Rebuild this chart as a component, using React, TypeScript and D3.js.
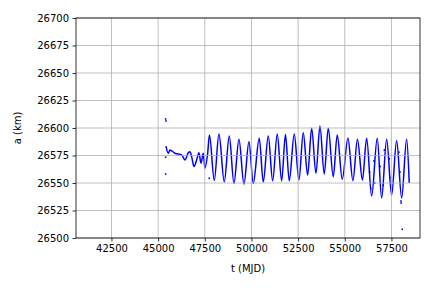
import * as d3 from "d3";
import { useEffect, useRef } from "react";

// orbit track (MJD, km), extrema of the oscillation
const tOrbit = [
  45420, 45543, 45634, 45902, 46261, 46437, 46614, 46705, 46796, 46920, 47064,
  47187, 47295, 47418, 47509, 47653, 47750, 48007, 48259, 48543, 48811, 49062,
  49330, 49598, 49866, 50096, 50418, 50632, 50900, 51136, 51382, 51618, 51821,
  52025, 52293, 52544, 52775, 53010, 53225, 53455, 53669, 53900, 54114, 54382,
  54596, 54864, 55169, 55437, 55678, 55946, 56171, 56439, 56739, 56975, 57242,
  57510, 57778, 58046, 58314, 58453,
];
const aOrbit = [
  26583.6, 26577, 26580, 26577, 26575.5, 26571, 26577.5, 26578.5, 26574, 26565,
  26571, 26577.5, 26568, 26577, 26563.4, 26577, 26593.6, 26552.3, 26594.5,
  26551, 26592.7, 26549.7, 26589.7, 26549, 26587.5, 26549.7, 26590.6, 26551,
  26592.7, 26552, 26594.5, 26552, 26594, 26552, 26594.5, 26552.7, 26595.7,
  26557.3, 26599.7, 26558.8, 26601.8, 26558.2, 26599.7, 26555.7, 26593.6,
  26553.4, 26590.6, 26552, 26589.7, 26552.7, 26590.6, 26538.2, 26590.6, 26536.4,
  26589.7, 26539.1, 26588.5, 26536.4, 26589.7, 26550,
];

// isolated points and the loose scatter near the end
const tStray = [
  45400, 45420, 45404, 45398, 47739, 56280, 56330, 56390, 56560, 56600, 56900,
  57050, 57120, 57380, 57420, 57900, 57960, 58009, 58020, 58078,
];
const aStray = [
  26608.2, 26606.4, 26558.2, 26573.4, 26554.3, 26575, 26560, 26545, 26570,
  26550, 26565, 26548, 26580, 26572, 26555, 26578, 26560, 26533.6, 26531.8,
  26507.9,
];

const xTicks = [42500, 45000, 47500, 50000, 52500, 55000, 57500];
const yTicks = [26500, 26525, 26550, 26575, 26600, 26625, 26650, 26675, 26700];

const W = 432;
const H = 288;
const margin = { left: 76, right: 12, top: 18, bottom: 50 };
const FONT = "DejaVu Sans, sans-serif";

function OrbitChart() {
  const ref = useRef<SVGSVGElement | null>(null);

  useEffect(() => {
    const svg = d3.select(ref.current);
    svg.selectAll("*").remove();

    const x = d3
      .scaleLinear()
      .domain([40600, 59030])
      .range([margin.left, W - margin.right]);
    const y = d3
      .scaleLinear()
      .domain([26500, 26700])
      .range([H - margin.bottom, margin.top]);

    const plot = svg.append("g");

    // data
    const line = d3
      .line<number>()
      .x((_, i) => x(tOrbit[i]))
      .y((d) => y(d))
      .curve(d3.curveMonotoneX);
    plot
      .append("path")
      .datum(aOrbit)
      .attr("d", line)
      .attr("fill", "none")
      .attr("stroke", "#0000ff")
      .attr("stroke-width", 1.5);

    plot
      .selectAll(".stray")
      .data(aStray)
      .join("rect")
      .attr("class", "stray")
      .attr("x", (_, i) => x(tStray[i]) - 0.8)
      .attr("y", (d) => y(d) - 0.8)
      .attr("width", 1.6)
      .attr("height", 1.6)
      .attr("fill", "#0000ff");

    // grid on top of the points, like matplotlib
    plot
      .selectAll(".gx")
      .data(xTicks)
      .join("line")
      .attr("x1", (d) => x(d))
      .attr("x2", (d) => x(d))
      .attr("y1", margin.top)
      .attr("y2", H - margin.bottom)
      .attr("stroke", "#b0b0b0")
      .attr("stroke-width", 0.8);
    plot
      .selectAll(".gy")
      .data(yTicks)
      .join("line")
      .attr("y1", (d) => y(d))
      .attr("y2", (d) => y(d))
      .attr("x1", margin.left)
      .attr("x2", W - margin.right)
      .attr("stroke", "#b0b0b0")
      .attr("stroke-width", 0.8);

    // axes
    const xAxis = d3
      .axisBottom(x)
      .tickValues(xTicks)
      .tickSize(3.5)
      .tickPadding(3.5)
      .tickFormat((d) => String(d));
    const yAxis = d3
      .axisLeft(y)
      .tickValues(yTicks)
      .tickSize(3.5)
      .tickPadding(3.5)
      .tickFormat((d) => String(d));

    const gx = svg
      .append("g")
      .attr("transform", `translate(0, ${H - margin.bottom})`)
      .call(xAxis);
    const gy = svg
      .append("g")
      .attr("transform", `translate(${margin.left}, 0)`)
      .call(yAxis);
    [gx, gy].forEach((g) => {
      g.select(".domain").remove();
      g.selectAll("line").attr("stroke", "#000").attr("stroke-width", 0.8);
      g.selectAll("text")
        .attr("font-family", FONT)
        .attr("font-size", 10)
        .attr("fill", "#000");
    });

    // spines
    svg
      .append("rect")
      .attr("x", margin.left)
      .attr("y", margin.top)
      .attr("width", W - margin.left - margin.right)
      .attr("height", H - margin.top - margin.bottom)
      .attr("fill", "none")
      .attr("stroke", "#000")
      .attr("stroke-width", 0.8);

    svg
      .append("text")
      .attr("x", (margin.left + W - margin.right) / 2)
      .attr("y", 272)
      .attr("text-anchor", "middle")
      .attr("font-family", FONT)
      .attr("font-size", 10)
      .text("t (MJD)");

    svg
      .append("text")
      .attr("transform", `translate(21, ${(margin.top + H - margin.bottom) / 2}) rotate(-90)`)
      .attr("text-anchor", "middle")
      .attr("font-family", FONT)
      .attr("font-size", 10)
      .text("a (km)");
  }, []);

  return (
    <svg
      ref={ref}
      width={W}
      height={H}
      style={{ position: "absolute", left: 0, top: 0, background: "#fff" }}
    ></svg>
  );
}

export default function App() {
  return <OrbitChart />;
}
